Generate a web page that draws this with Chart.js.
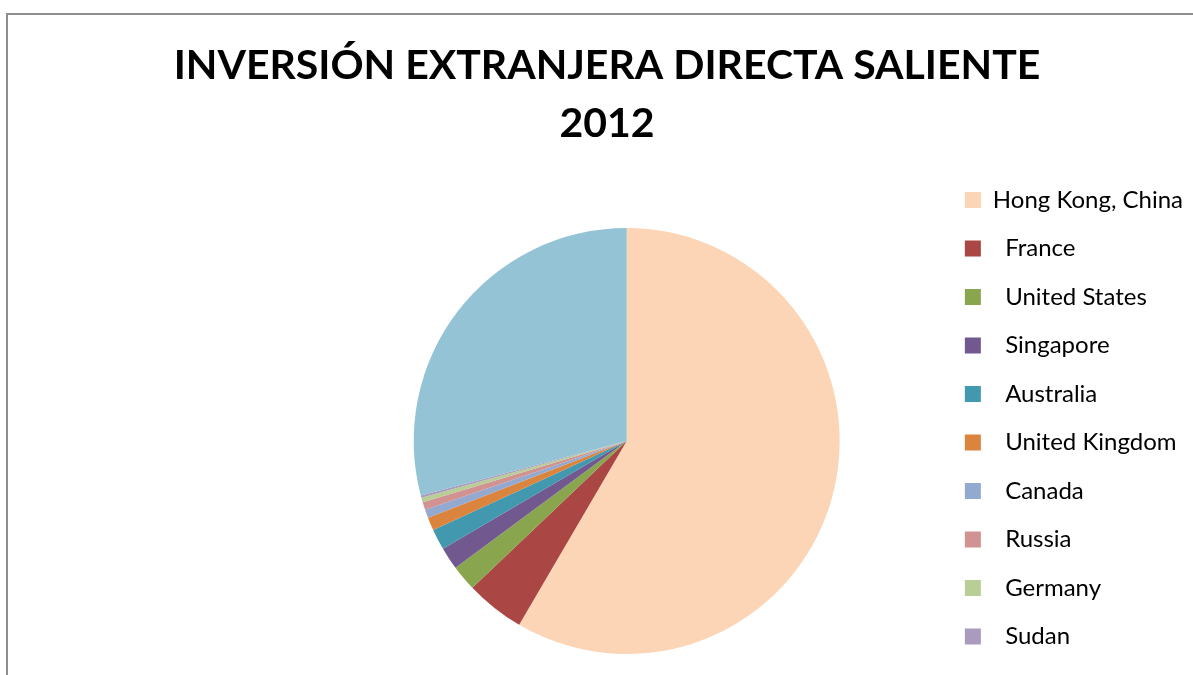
<!DOCTYPE html>
<html lang="es">
<head>
  <meta charset="UTF-8">
  <title>Inversión extranjera directa saliente 2012</title>
  <script src="https://cdn.jsdelivr.net/npm/chart.js"></script>
  <style>
    body {
      margin: 0;
      background: #fff;
      overflow: hidden;
    }
    .wrap {
      position: relative;
      width: 1193px;
      height: 675px;
    }
    .frame {
      position: absolute;
      left: 6px;
      top: 13px;
      right: -10px;
      bottom: -10px;
      border-left: 2px solid #8e8e8e;
      border-top: 2px solid #8e8e8e;
    }
    canvas {
      position: absolute;
      left: 0;
      top: 0;
    }
  </style>
</head>
<body>
<div class="wrap">
  <div class="frame"></div>
  <canvas id="pie" width="1193" height="675"></canvas>
</div>

<script>
  // share of outgoing FDI (percent)
  const countries = [
    'Hong Kong, China', '  France', '  United States', '  Singapore', '  Australia',
    '  United Kingdom', '  Canada', '  Russia', '  Germany', '  Sudan', 'Otros'
  ];
  const shares = [58.4, 4.47, 1.97, 1.69, 1.58, 1.0, 0.64, 0.58, 0.36, 0.17, 29.1];
  const sliceColors = [
    '#FBD5B5', '#AA4643', '#89A54E', '#71588F', '#4198AF',
    '#DB843D', '#93A9CF', '#D19392', '#B9CD96', '#A99BBD', '#93C3D5'
  ];
  const titleLines = ['INVERSIÓN EXTRANJERA DIRECTA SALIENTE', '2012'];

  // Excel centres the title on the whole frame and lets the legend hang
  // lower than the plot area, so nudge those two boxes after layout
  const excelLayout = {
    id: 'excelLayout',
    afterLayout(chart) {
      chart.titleBlock.left = 0;
      chart.titleBlock.right = 1214;
      chart.legend.top += 19;
      chart.legend.bottom += 19;
    }
  };

  new Chart(document.getElementById('pie'), {
    type: 'pie',
    data: {
      labels: countries,
      datasets: [{
        data: shares,
        backgroundColor: sliceColors,
        borderWidth: 0
      }]
    },
    options: {
      responsive: false,
      animation: false,
      layout: {
        padding: { left: 313, right: 0, top: 0, bottom: 21 }
      },
      plugins: {
        title: {
          display: true,
          text: titleLines,
          color: '#000',
          font: { family: 'Lato', size: 41, weight: 'bold', lineHeight: 1.415 },
          padding: { top: 37, bottom: 75 }
        },
        legend: {
          position: 'right',
          fullSize: true,
          align: 'end',
          labels: {
            // last slice is cut off the legend in the original
            filter: item => item.index < 10,
            boxWidth: 16,
            boxHeight: 16,
            padding: 24.5,
            color: '#000',
            font: { family: 'Lato', size: 24 }
          }
        },
        tooltip: { enabled: false }
      }
    },
    plugins: [excelLayout]
  });
</script>
</body>
</html>
